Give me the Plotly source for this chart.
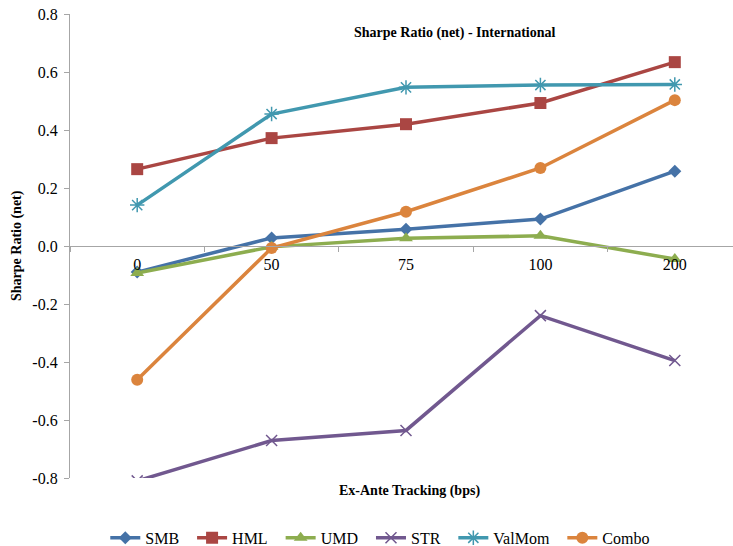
import plotly.graph_objects as go

categories = ["0", "50", "75", "100", "200"]
smb = [-0.090, 0.028, 0.058, 0.093, 0.258]
hml = [0.265, 0.372, 0.420, 0.493, 0.634]
umd = [-0.093, -0.003, 0.027, 0.035, -0.045]
strv = [-0.81, -0.671, -0.636, -0.240, -0.395]
valmom = [0.141, 0.455, 0.547, 0.555, 0.557]
combo = [-0.461, -0.007, 0.118, 0.269, 0.503]
y_ticks = [-0.8, -0.6, -0.4, -0.2, 0.0, 0.2, 0.4, 0.6, 0.8]
y_tick_labels = ["-0.8", "-0.6", "-0.4", "-0.2", "0.0", "0.2", "0.4", "0.6", "0.8"]

FONT = "Times New Roman, Liberation Serif, DejaVu Serif, serif"

series = [
    ("SMB", smb, "#4572A7", "diamond", 10),
    ("HML", hml, "#AA4643", "square", 12),
    ("UMD", umd, "#8DAD4F", "triangle-up", 12),
    ("STR", strv, "#71588F", "x-thin", 11),
    ("ValMom", valmom, "#4198AF", "asterisk", 12),
    ("Combo", combo, "#DB843D", "circle", 12),
]

fig = go.Figure()
for i, (name, vals, color, sym, size) in enumerate(series):
    thin = sym in ("x-thin", "asterisk")
    pad = "\u00a0\u00a0" if i < len(series) - 1 else ""
    fig.add_trace(go.Scatter(
        x=categories, y=vals, name=name + pad, mode="lines+markers",
        line=dict(color=color, width=3.5),
        marker=dict(symbol=sym, size=size, color=color,
                    line=dict(color=color, width=1.5 if thin else 0)),
    ))

fig.update_layout(
    width=733, height=546,
    margin=dict(l=70, r=0, t=14, b=68, autoexpand=False),
    paper_bgcolor="white", plot_bgcolor="white",
    font=dict(family=FONT, size=15, color="black"),
    showlegend=True,
    legend=dict(orientation="h", x=0.468, xanchor="center", y=-0.129, yanchor="middle",
                font=dict(family=FONT, size=16), itemwidth=30, tracegroupgap=0),
    xaxis=dict(type="category", range=[-0.5, 4.433], anchor="free", position=0.5,
               showline=True, linecolor="#A6A6A6", linewidth=1.2, automargin=False,
               ticks="outside", tickson="boundaries", ticklen=5, tickcolor="#A6A6A6",
               ticklabelstandoff=4,
               showgrid=False, zeroline=False, tickfont=dict(family=FONT, size=16)),
    yaxis=dict(range=[-0.8, 0.8], tickvals=y_ticks, ticktext=y_tick_labels, automargin=False,
               showline=True, linecolor="#A6A6A6", linewidth=1.2,
               ticks="outside", ticklen=5, tickcolor="#A6A6A6", ticklabelstandoff=3,
               showgrid=False, zeroline=False, tickfont=dict(family=FONT, size=16)),
    annotations=[
        dict(text="<b>Sharpe Ratio (net) - International</b>", xref="paper", yref="paper",
             x=0.581, y=0.959, xanchor="center", yanchor="middle", showarrow=False,
             font=dict(family=FONT, size=14)),
        dict(text="<b>Ex-Ante Tracking (bps)</b>", xref="paper", yref="paper",
             x=0.512, y=0, yshift=-13, xanchor="center", yanchor="middle", showarrow=False,
             font=dict(family=FONT, size=14)),
        dict(text="<b>Sharpe Ratio (net)</b>", xref="paper", yref="paper",
             x=0, xshift=-53, y=0.5, xanchor="center", yanchor="middle", textangle=-90,
             showarrow=False, font=dict(family=FONT, size=14)),
    ],
)

fig.write_html("out.html", config={"displayModeBar": False},
               post_script="document.body.style.margin='0px';")
